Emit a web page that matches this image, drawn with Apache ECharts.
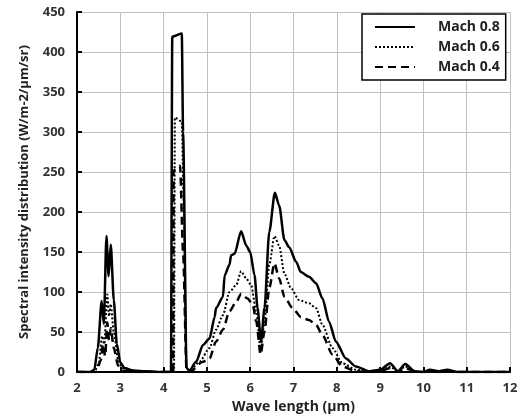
<!DOCTYPE html>
<html><head><meta charset="utf-8">
<script src="https://cdn.jsdelivr.net/npm/echarts@6/dist/echarts.min.js"></script>
<style>html,body{margin:0;padding:0;background:#fff}#c{width:523px;height:419px}</style>
</head><body><div id="c"></div>
<script>
var seriesNames = ['Mach 0.8', 'Mach 0.6', 'Mach 0.4'];
var xTicks = [2,3,4,5,6,7,8,9,10,11,12];
var yTicks = [0,50,100,150,200,250,300,350,400,450];
var mach08 = [[2.0,0],[2.3,0],[2.4,3],[2.48,30],[2.57,89],[2.62,60],[2.68,170],[2.73,120],[2.78,159],[2.85,90],[2.92,35],[3.0,12],[3.1,5],[3.3,2],[3.6,1],[4.0,0],[4.17,0],[4.2,419],[4.42,423],[4.45,300],[4.53,5],[4.6,2],[4.75,13],[4.91,34],[5.06,42],[5.18,69],[5.21,80],[5.37,94],[5.41,121],[5.52,134],[5.56,146],[5.64,148],[5.79,176],[5.91,158],[6.0,150],[6.1,121],[6.17,80],[6.25,38],[6.33,80],[6.44,175],[6.57,224],[6.67,208],[6.79,165],[6.9,156],[7.06,138],[7.17,125],[7.36,119],[7.52,111],[7.67,92],[7.82,63],[7.98,38],[8.21,17],[8.44,7],[8.75,1],[9.0,3],[9.23,11],[9.41,1],[9.58,10],[9.8,1],[10.0,0],[10.15,3],[10.35,1],[10.55,3],[10.8,0],[12,0]];
var mach06 = [[2.0,0],[2.4,0],[2.5,10],[2.58,45],[2.63,35],[2.7,97],[2.74,70],[2.78,85],[2.85,50],[2.95,15],[3.05,5],[3.3,1],[3.6,0],[4.24,0],[4.26,318],[4.42,313],[4.47,200],[4.53,5],[4.6,1],[4.83,13],[5.06,30],[5.21,53],[5.37,71],[5.52,100],[5.68,109],[5.79,126],[5.91,117],[6.02,109],[6.14,76],[6.24,28],[6.33,63],[6.44,134],[6.56,170],[6.67,158],[6.79,123],[6.94,105],[7.13,90],[7.36,86],[7.52,80],[7.67,59],[7.9,30],[8.13,11],[8.44,3],[8.75,0],[9.0,1],[9.23,7],[9.41,1],[9.58,7],[9.8,1],[10,0],[10.15,2],[10.35,0],[10.55,2],[10.8,0],[12,0]];
var mach04 = [[2.0,0],[2.45,0],[2.55,15],[2.6,35],[2.65,20],[2.7,62],[2.74,40],[2.78,55],[2.85,30],[2.95,8],[3.05,2],[3.3,0],[4.22,0],[4.23,252],[4.38,258],[4.45,150],[4.53,3],[4.6,0],[4.91,13],[5.06,17],[5.21,38],[5.37,53],[5.52,76],[5.68,88],[5.79,98],[5.94,92],[6.06,84],[6.14,63],[6.24,22],[6.33,51],[6.44,105],[6.56,136],[6.67,117],[6.79,94],[6.98,80],[7.17,69],[7.36,65],[7.52,59],[7.67,46],[7.9,22],[8.13,7],[8.44,1],[8.75,0],[9.0,1],[9.23,5],[9.41,1],[9.58,5],[9.8,1],[10,0],[10.15,1],[10.35,0],[10.55,1],[10.8,0],[12,0]];

var font = '"Open Sans", "Liberation Sans", sans-serif';
var chart = echarts.init(document.getElementById('c'), null, {renderer:'canvas'});
function mk(name, data, type, width){
  return {name:name, type:'line', data:data, symbol:'none', smooth:0.25, smoothMonotone:'x',
    lineStyle:{color:'#000', width:width, type:type}, itemStyle:{color:'#000'}, z:3};
}
chart.setOption({
  animation:false,
  grid:{left:77, right:13, top:12, bottom:44, containLabel:false},
  legend:{
    orient:'vertical', left:362, top:14, width:144,
    backgroundColor:'#fff', borderColor:'#000', borderWidth:1.5,
    padding:[6,6,6,12], itemGap:6, itemWidth:40, itemHeight:14,
    itemStyle:{color:'transparent', borderColor:'transparent', borderWidth:0},
    textStyle:{fontFamily:font, fontWeight:'bold', fontSize:14, color:'#222', padding:[0,0,0,18]},
    data:seriesNames.map(function(n){return {name:n};})
  },
  xAxis:{
    type:'value', min:xTicks[0], max:xTicks[xTicks.length-1], interval:1,
    name:'Wave length (μm)', nameLocation:'middle', nameGap:26,
    nameTextStyle:{fontFamily:font, fontWeight:'bold', fontSize:14, color:'#222'},
    axisLine:{lineStyle:{color:'#000', width:2}},
    axisTick:{inside:true, length:5, lineStyle:{color:'#000', width:2}},
    axisLabel:{fontFamily:font, fontWeight:'bold', fontSize:13, color:'#333', margin:10},
    splitLine:{show:true, lineStyle:{color:'#c0c0c0', width:1}}
  },
  yAxis:{
    type:'value', min:yTicks[0], max:yTicks[yTicks.length-1], interval:50,
    name:'Spectral intensity distribution (W/m-2/μm/sr)', nameLocation:'middle', nameGap:46,
    nameTextStyle:{fontFamily:font, fontWeight:'bold', fontSize:13, color:'#222'},
    axisLine:{show:true, lineStyle:{color:'#000', width:2}},
    axisTick:{show:true, inside:true, length:5, lineStyle:{color:'#000', width:2}},
    axisLabel:{fontFamily:font, fontWeight:'bold', fontSize:13, color:'#333', margin:12},
    splitLine:{show:true, lineStyle:{color:'#c0c0c0', width:1}}
  },
  series:[
    mk(seriesNames[0], mach08, 'solid', 2.5),
    mk(seriesNames[1], mach06, [2,2], 2),
    mk(seriesNames[2], mach04, [8,5], 2.5)
  ]
});
</script></body></html>
